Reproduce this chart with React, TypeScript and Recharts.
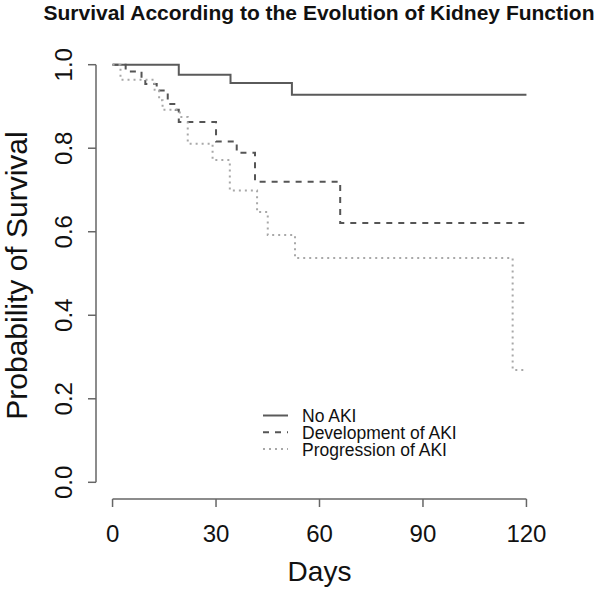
import React from 'react';
import { LineChart, Line, XAxis, YAxis, ReferenceLine, Legend, Label } from 'recharts';

// Kaplan-Meier step points (day, survival probability)
const noAkiDays = [0, 19.2, 34.2, 52, 120];
const noAkiSurv = [1, 0.976, 0.956, 0.928, 0.928];
const devDays = [0, 3.8, 8.4, 9.5, 12.8, 16, 18.3, 19.2, 30, 36, 41.3, 66, 120];
const devSurv = [1, 0.984, 0.968, 0.954, 0.938, 0.906, 0.892, 0.863, 0.816, 0.789, 0.72, 0.621, 0.621];
const progDays = [0, 2.3, 12.2, 13.5, 14.5, 19.5, 21.8, 29, 34, 41.9, 45, 52.9, 116, 120];
const progSurv = [1, 0.964, 0.94, 0.915, 0.892, 0.875, 0.811, 0.772, 0.699, 0.647, 0.592, 0.537, 0.269, 0.269];

const seriesNames = ['No AKI', 'Development of AKI', 'Progression of AKI'];
const seriesColors = ['#5a5a5a', '#555555', '#a8a8a8'];
const seriesDash = ['', '6 6', '2 4'];

const xTicks = [0, 30, 60, 90, 120];
const yTicks = [0, 0.2, 0.4, 0.6, 0.8, 1.0];
const xDomain = [-4.8, 124.8];
const yDomain = [-0.04, 1.04];

const titleText = 'Survival According to the Evolution of Kidney Function';
const xLabelText = 'Days';
const yLabelText = 'Probability of Survival';

const FONT = '"Liberation Sans", Arial, Helvetica, sans-serif';

const toRows = (days: number[], surv: number[]) => days.map((d, i) => ({ day: d, s: surv[i] }));
const seriesData = [toRows(noAkiDays, noAkiSurv), toRows(devDays, devSurv), toRows(progDays, progSurv)];

const YTick = (props: any) => {
  const { x, y, payload } = props;
  const bx = x - 14;
  return (
    <text
      x={bx}
      y={y}
      transform={`rotate(-90, ${bx}, ${y})`}
      textAnchor="middle"
      fontSize={24}
      fill="#111"
      fontFamily={FONT}
    >
      {Number(payload.value).toFixed(1)}
    </text>
  );
};

const YLabelContent = (props: any) => {
  const vb = props.viewBox || {};
  const bx = vb.x + 27;
  const cy = vb.y + vb.height / 2 + 2;
  return (
    <text
      x={bx}
      y={cy}
      transform={`rotate(-90, ${bx}, ${cy})`}
      textAnchor="middle"
      fontSize={30}
      fill="#111"
      fontFamily={FONT}
    >
      {yLabelText}
    </text>
  );
};

const XLabelContent = (props: any) => {
  const vb = props.viewBox || {};
  const cx = vb.x + vb.width / 2;
  return (
    <text x={cx} y={vb.y + 82} textAnchor="middle" fontSize={28} fill="#111" fontFamily={FONT}>
      {xLabelText}
    </text>
  );
};

const LegendContent = () => (
  <svg width={250} height={64} style={{ display: 'block' }}>
    {seriesNames.map((n, i) => {
      const base = 22 + 16.8 * i;
      return (
        <g key={n}>
          <line
            x1={5}
            x2={30}
            y1={base - 6.5}
            y2={base - 6.5}
            stroke={seriesColors[i]}
            strokeWidth={2}
            strokeDasharray={seriesDash[i] || undefined}
          />
          <text x={44} y={base} fontSize={17.5} fill="#111" fontFamily={FONT}>
            {n}
          </text>
        </g>
      );
    })}
  </svg>
);

export default function App() {
  return (
    <div style={{ position: 'absolute', left: 0, top: 0, width: 600, height: 594, background: '#fff' }}>
      <div
        style={{
          position: 'absolute',
          left: 0,
          top: 1,
          width: 638,
          textAlign: 'center',
          fontFamily: FONT,
          fontWeight: 'bold',
          fontSize: 21,
          color: '#111',
          lineHeight: '24px',
          whiteSpace: 'nowrap',
        }}
      >
        {titleText}
      </div>
      <LineChart width={600} height={594} margin={{ top: 48, right: 57, left: 0, bottom: 0 }}>
        <XAxis
          type="number"
          dataKey="day"
          domain={xDomain}
          ticks={xTicks}
          allowDataOverflow
          axisLine={false}
          tickLine={{ stroke: '#666', strokeWidth: 1.5 }}
          tickSize={8}
          tickMargin={18}
          height={95}
          tick={{ fontSize: 24, fill: '#111', fontFamily: FONT }}
        >
          <Label content={XLabelContent} />
        </XAxis>
        <YAxis
          type="number"
          domain={yDomain}
          ticks={yTicks}
          allowDataOverflow
          axisLine={false}
          tickLine={{ stroke: '#666', strokeWidth: 1.5 }}
          tickSize={8}
          width={96}
          tick={<YTick />}
        >
          <Label content={YLabelContent} />
        </YAxis>
        <ReferenceLine
          segment={[{ x: xTicks[0], y: yDomain[0] }, { x: xTicks[xTicks.length - 1], y: yDomain[0] }]}
          stroke="#666"
          strokeWidth={1.5}
          ifOverflow="visible"
        />
        <ReferenceLine
          segment={[{ x: xDomain[0], y: yTicks[0] }, { x: xDomain[0], y: yTicks[yTicks.length - 1] }]}
          stroke="#666"
          strokeWidth={1.5}
          ifOverflow="visible"
        />
        {seriesData.map((d, i) => (
          <Line
            key={seriesNames[i]}
            data={d}
            dataKey="s"
            name={seriesNames[i]}
            type="stepAfter"
            stroke={seriesColors[i]}
            strokeWidth={2}
            strokeDasharray={seriesDash[i] || undefined}
            dot={false}
            activeDot={false}
            isAnimationActive={false}
          />
        ))}
        <Legend
          layout="horizontal"
          verticalAlign="middle"
          align="center"
          content={LegendContent}
          wrapperStyle={{ left: 258, top: 400, width: 250, height: 64 }}
        />
      </LineChart>
    </div>
  );
}
